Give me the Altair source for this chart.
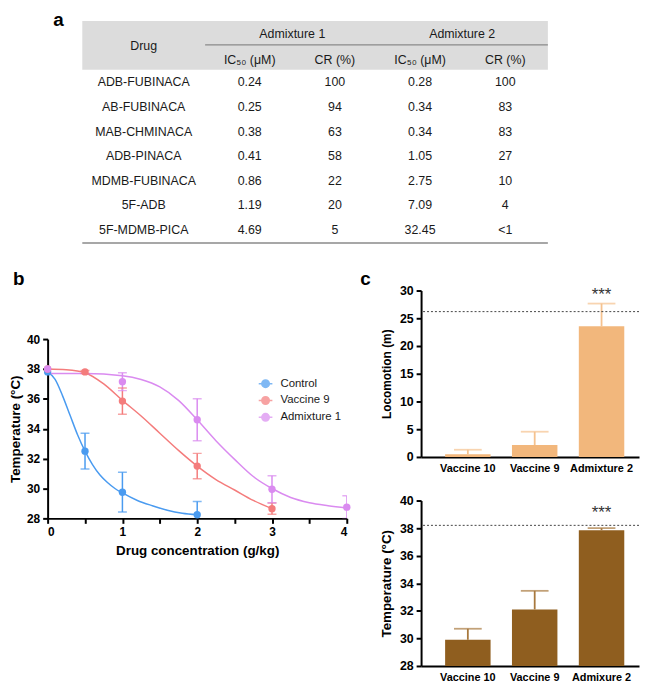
import altair as alt
import pandas as pd

FONT = "Liberation Sans, Arial, Helvetica, sans-serif"
INK = "#1a1a1a"

# ---------------- panel a : table ----------------
drugs = ["ADB-FUBINACA", "AB-FUBINACA", "MAB-CHMINACA", "ADB-PINACA",
         "MDMB-FUBINACA", "5F-ADB", "5F-MDMB-PICA"]
ic50_adm1 = ["0.24", "0.25", "0.38", "0.41", "0.86", "1.19", "4.69"]
cr_adm1 = ["100", "94", "63", "58", "22", "20", "5"]
ic50_adm2 = ["0.28", "0.34", "0.34", "1.05", "2.75", "7.09", "32.45"]
cr_adm2 = ["100", "83", "83", "27", "10", "4", "<1"]
group_headers = ["Admixture 1", "Admixture 2"]
sub_keys = ["IC50_1", "CR_1", "IC50_2", "CR_2"]
sub_headers = ["IC₅₀ (μM)", "CR (%)", "IC₅₀ (μM)", "CR (%)"]

# ---------------- panel b : dose response ----------------
b_groups = ["Control", "Vaccine 9", "Admixture 1"]
b_colors = ["#4A9BF0", "#F47C7C", "#DA8BF0"]
ctrl_x = [0, 0.5, 1, 2]
ctrl_y = [37.8, 32.5, 29.75, 28.25]
ctrl_err = [0, 1.2, 1.33, 0.88]
vac9_x = [0, 0.5, 1, 2, 3]
vac9_y = [38.0, 37.8, 35.85, 31.5, 28.65]
vac9_err = [0, 0.1, 0.88, 0.85, 0.38]
adm1_x = [0, 1, 2, 3, 4]
adm1_y = [38.0, 37.15, 34.6, 29.95, 28.75]
adm1_err = [0, 0.6, 1.4, 0.9, 0.76]
# fitted curves
ctrl_fit_x = [0, 0.1, 0.2, 0.3, 0.4, 0.5, 0.6, 0.7, 0.8, 0.9, 1.0, 1.2, 1.4, 1.6, 1.8, 2.0]
ctrl_fit_y = [37.8, 37.3, 36.2, 34.9, 33.6, 32.5, 31.6, 30.9, 30.4, 30.0, 29.7, 29.2, 28.85, 28.55, 28.35, 28.25]
vac9_fit_x = [0, 0.25, 0.5, 0.75, 1.0, 1.25, 1.5, 1.75, 2.0, 2.25, 2.5, 2.75, 3.0]
vac9_fit_y = [38.0, 37.95, 37.75, 37.0, 35.9, 34.85, 33.7, 32.55, 31.5, 30.6, 29.9, 29.2, 28.65]
adm1_fit_x = [0, 0.5, 1.0, 1.25, 1.5, 1.75, 2.0, 2.25, 2.5, 2.75, 3.0, 3.25, 3.5, 3.75, 4.0]
adm1_fit_y = [37.7, 37.7, 37.55, 37.3, 36.8, 35.9, 34.6, 33.2, 31.95, 30.8, 30.0, 29.4, 29.05, 28.85, 28.7]

# ---------------- panel c : bars ----------------
loco_groups = ["Vaccine 10", "Vaccine 9", "Admixture 2"]
loco_mean = [0.5, 2.15, 23.55]
loco_err = [0.8, 2.4, 4.1]
loco_ref = 26.2
temp_groups = ["Vaccine 10", "Vaccine 9", "Admixure 2"]
temp_mean = [29.9, 32.1, 37.85]
temp_err = [0.8, 1.35, 0.15]
temp_ref = 38.2
stars = "***"

# ======================= table =======================
cells = pd.DataFrame([
    {"drug": d, "col": k, "val": v}
    for k, vals in zip(sub_keys, [ic50_adm1, cr_adm1, ic50_adm2, cr_adm2])
    for d, v in zip(drugs, vals)
])
drug_df = pd.DataFrame({"drug": drugs})
sub_df = pd.DataFrame({"col": sub_keys, "label": sub_headers})
grp_df = pd.DataFrame({"grp": group_headers})
one = pd.DataFrame({"k": [0]})

row_scale = alt.Scale(type="point", domain=drugs, range=[72, 221], padding=0)
col_scale = alt.Scale(type="point", domain=sub_keys, range=[204, 462], padding=0)
grp_scale = alt.Scale(type="point", domain=group_headers, range=[247, 418.5], padding=0)
txt = dict(font=FONT, fontSize=12.5, color=INK, align="center", baseline="middle")

t_band = alt.Chart(one).mark_rect(color="#dcdcdc").encode(
    x=alt.value(35), x2=alt.value(505), y=alt.value(10), y2=alt.value(59))
t_line1 = alt.Chart(one).mark_rule(color="#8a8a8a", strokeWidth=1.5).encode(
    x=alt.value(159), x2=alt.value(505), y=alt.value(34))
t_line2 = alt.Chart(one).mark_rule(color="#8a8a8a", strokeWidth=1.5).encode(
    x=alt.value(35), x2=alt.value(505), y=alt.value(234))
t_a = alt.Chart(pd.DataFrame({"t": ["a"]})).mark_text(
    font=FONT, fontSize=19, fontWeight="bold", color="black", align="center",
    baseline="alphabetic").encode(text="t:N", x=alt.value(11), y=alt.value(15))
t_drug_h = alt.Chart(pd.DataFrame({"t": ["Drug"]})).mark_text(**txt).encode(
    text="t:N", x=alt.value(97), y=alt.value(35))
t_grp = alt.Chart(grp_df).mark_text(**txt).encode(
    x=alt.X("grp:N", scale=grp_scale, axis=None), y=alt.value(23), text="grp:N")
t_sub = alt.Chart(sub_df).mark_text(**txt).encode(
    x=alt.X("col:N", scale=col_scale, axis=None), y=alt.value(49), text="label:N")
t_cells = alt.Chart(cells).mark_text(**txt).encode(
    x=alt.X("col:N", scale=col_scale, axis=None),
    y=alt.Y("drug:N", scale=row_scale, axis=None), text="val:N")
t_drugs = alt.Chart(drug_df).mark_text(**txt).encode(
    x=alt.value(97), y=alt.Y("drug:N", scale=row_scale, axis=None), text="drug:N")

table = alt.layer(t_band, t_line1, t_line2, t_a, t_drug_h, t_grp, t_sub, t_cells, t_drugs
                  ).resolve_scale(x="independent", y="independent").properties(width=597, height=245)

# ======================= panel b =======================
def pts(g, xs, ys, es):
    return [{"group": g, "x": x, "y": y, "lo": y - e, "hi": y + e, "err": e}
            for x, y, e in zip(xs, ys, es)]

def fit(g, xs, ys):
    return [{"group": g, "x": x, "y": y} for x, y in zip(xs, ys)]

b_pts = pd.DataFrame(pts("Control", ctrl_x, ctrl_y, ctrl_err)
                     + pts("Vaccine 9", vac9_x, vac9_y, vac9_err)
                     + pts("Admixture 1", adm1_x, adm1_y, adm1_err))
b_fit = pd.DataFrame(fit("Control", ctrl_fit_x, ctrl_fit_y)
                     + fit("Vaccine 9", vac9_fit_x, vac9_fit_y)
                     + fit("Admixture 1", adm1_fit_x, adm1_fit_y))

axis_common = dict(domainColor="black", domainWidth=2, tickColor="black", tickWidth=2,
                   tickSize=5, labelFont=FONT, labelFontWeight="bold", labelColor="black",
                   titleFont=FONT, titleFontWeight="bold", titleColor="black", grid=False,
                   labelOverlap=False)
bx_axis = alt.Axis(values=[0, 0.5, 1, 1.5, 2, 2.5, 3, 3.5, 4],
                   labelExpr="datum.value % 1 == 0 ? format(datum.value, 'd') : ''",
                   labelFontSize=12, labelPadding=3, titleFontSize=13.5, titlePadding=6,
                   **axis_common)
by_axis = alt.Axis(values=[28, 30, 32, 34, 36, 38, 40], labelFontSize=12, labelPadding=3,
                   titleFontSize=13.5, titlePadding=4, **axis_common)
B_H = 230          # view height; the y axis itself occupies its lower part
bx_scale = alt.Scale(domain=[0, 4], nice=False)
by_scale = alt.Scale(domain=[28, 40], nice=False, zero=False, range=[B_H, 49])

def BX(f):
    return alt.X(f"{f}:Q", scale=bx_scale, axis=bx_axis, title="Drug concentration (g/kg)")

def BY(f):
    return alt.Y(f"{f}:Q", scale=by_scale, axis=by_axis, title="Temperature (°C)")

LEG_SYMBOL = "M-1,0H1M0.55,0A0.55,0.55,0,1,1,-0.55,0A0.55,0.55,0,1,1,0.55,0Z"
b_color = alt.Color("group:N", scale=alt.Scale(domain=b_groups, range=b_colors),
                    legend=alt.Legend(title=None, orient="none", legendX=212, legendY=368,
                                      labelFont=FONT, labelFontSize=11.5, labelColor=INK,
                                      symbolType=LEG_SYMBOL, symbolSize=190, symbolStrokeWidth=1.5,
                                      rowPadding=2, labelOffset=7, padding=0))

b_lines = alt.Chart(b_fit).mark_line(strokeWidth=1.5, interpolate="monotone", clip=True).encode(
    x=BX("x"), y=BY("y"), color=b_color, detail="group:N")
b_err = alt.Chart(b_pts).transform_filter("datum.err > 0").mark_rule(strokeWidth=1.5, clip=True).encode(
    x=BX("x"), y=BY("lo"), y2="hi:Q", color=b_color)
b_cap_hi = alt.Chart(b_pts).transform_filter("datum.err > 0").mark_tick(
    orient="horizontal", size=9, thickness=1.5, clip=True).encode(x=BX("x"), y=BY("hi"), color=b_color)
b_cap_lo = alt.Chart(b_pts).transform_filter("datum.err > 0").mark_tick(
    orient="horizontal", size=9, thickness=1.5, clip=True).encode(x=BX("x"), y=BY("lo"), color=b_color)
b_points = alt.Chart(b_pts).mark_point(filled=True, size=55, opacity=1).encode(
    x=BX("x"), y=BY("y"), color=b_color)
b_label = alt.Chart(pd.DataFrame({"t": ["b"]})).mark_text(
    font=FONT, fontSize=19, fontWeight="bold", color="black", align="left",
    baseline="alphabetic").encode(text="t:N", x=alt.value(-35), y=alt.value(-6))

b_chart = alt.layer(b_lines, b_err, b_cap_hi, b_cap_lo, b_points, b_label).properties(width=302, height=B_H)

# ======================= panel c =======================
def bar_panel(groups, means, errs, ref, ydom, yvals, ytitle, ytitle_size, bar_color, err_color, star_y, label=None):
    df = pd.DataFrame({"group": groups, "mean": means, "hi": [m + e for m, e in zip(means, errs)]})
    xs = alt.Scale(domain=groups, paddingInner=0.32, paddingOuter=0.29, align=0.62)
    xa = alt.Axis(ticks=False, labelAngle=0, labelFontSize=11, labelPadding=6, domainColor="black",
                  domainWidth=2, labelFont=FONT, labelFontWeight="bold", labelColor="black", grid=False)
    ys = alt.Scale(domain=ydom, nice=False, zero=False)
    ya = alt.Axis(values=yvals, labelFontSize=12.5, labelPadding=3, titleFontSize=ytitle_size,
                  titlePadding=6, **axis_common)
    X = alt.X("group:N", scale=xs, axis=xa, title=None)

    def Y(f):
        return alt.Y(f"{f}:Q", scale=ys, axis=ya, title=ytitle)

    bars = alt.Chart(df).mark_bar(color=bar_color).encode(
        x=X, y=Y("mean"), y2=alt.Y2(datum=ydom[0]))
    err = alt.Chart(df).mark_rule(color=err_color, strokeWidth=1.8).encode(x=X, y=Y("mean"), y2="hi:Q")
    cap = alt.Chart(df).mark_tick(color=err_color, orient="horizontal", size=28, thickness=1.8).encode(
        x=X, y=Y("hi"))
    refl = alt.Chart(one).mark_rule(color="#444444", strokeWidth=1, strokeDash=[2, 2]).encode(
        y=alt.Y(datum=ref, scale=ys, axis=ya, title=ytitle))
    st = alt.Chart(pd.DataFrame({"group": [groups[-1]], "y": [star_y], "t": [stars]})).mark_text(
        font=FONT, fontSize=17, color="#333333", baseline="middle", dy=4).encode(
        x=X, y=Y("y"), text="t:N")
    layers = [bars, err, cap, refl, st]
    if label:
        layers.append(alt.Chart(pd.DataFrame({"t": [label]})).mark_text(
            font=FONT, fontSize=19, fontWeight="bold", color="black", align="center",
            baseline="alphabetic").encode(text="t:N", x=alt.value(-56), y=alt.value(-6)))
    return alt.layer(*layers)

c_top = bar_panel(loco_groups, loco_mean, loco_err, loco_ref, [0, 30], [0, 5, 10, 15, 20, 25, 30],
                  "Locomotion (m)", 12, "#F2B77C", "#F5C28F", 29.9, label="c").properties(width=220, height=168)
c_bot = bar_panel(temp_groups, temp_mean, temp_err, temp_ref, [28, 40], [28, 30, 32, 34, 36, 38, 40],
                  "Temperature (°C)", 13.5, "#8F5E1F", "#A8793E", 39.4).properties(width=220, height=167)

right_col = alt.vconcat(c_top, c_bot, spacing=44, bounds="flush")
bottom = alt.hconcat(b_chart, right_col, spacing=75, bounds="flush")

chart = alt.vconcat(table, bottom, spacing=37, bounds="flush").properties(
    padding=0).configure(font=FONT).configure_view(strokeWidth=0)

chart.save("out.html", embed_options={"renderer": "svg", "actions": False})
